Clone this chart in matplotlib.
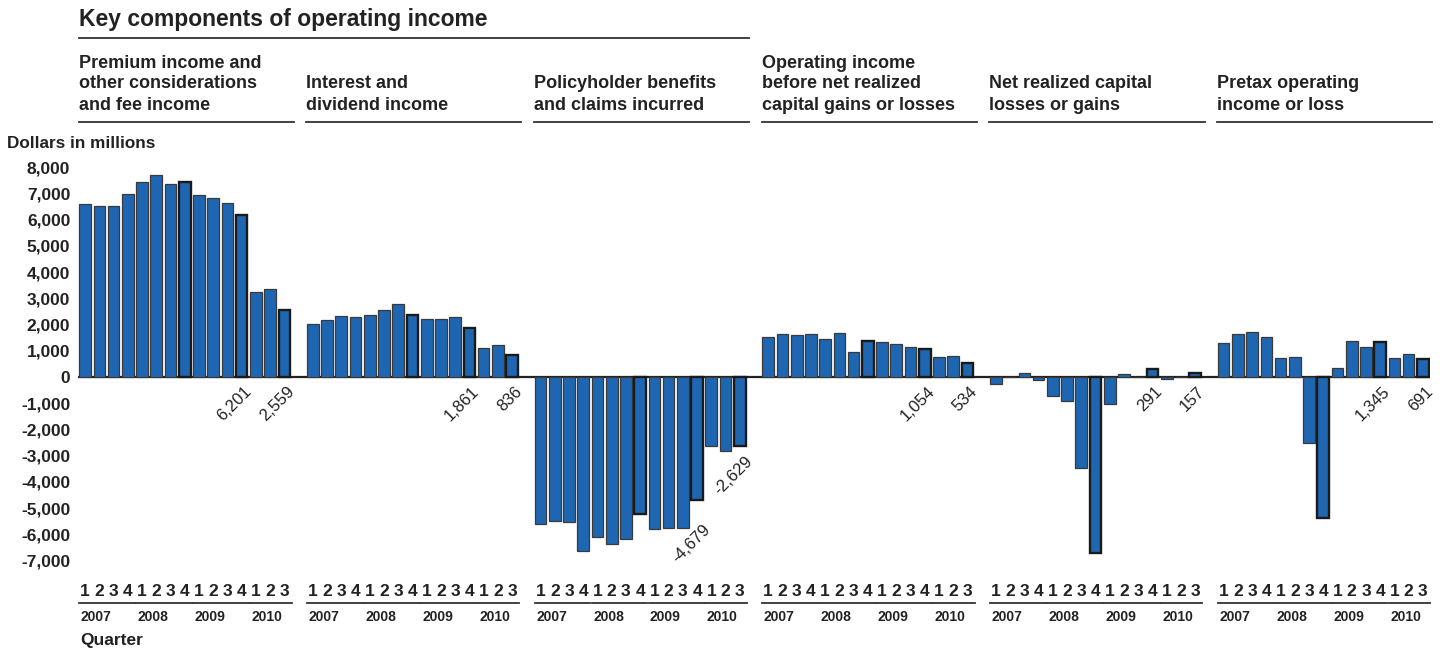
import numpy as np
import matplotlib.pyplot as plt
import matplotlib.transforms as mtransforms
from matplotlib.lines import Line2D

plt.rcParams['font.family'] = ['Liberation Sans', 'DejaVu Sans']

W, H = 1449, 652

# values in millions of dollars, 2007 Q1 .. 2010 Q3
premium = [6600, 6510, 6510, 6980, 7440, 7700, 7350, 7430, 6950, 6830, 6630, 6201, 3230, 3360, 2559]
interest = [2010, 2160, 2340, 2290, 2380, 2550, 2770, 2380, 2200, 2210, 2300, 1861, 1110, 1210, 836]
benefits = [-5600, -5510, -5520, -6650, -6120, -6360, -6180, -5240, -5790, -5760, -5750, -4679, -2620, -2810, -2629]
oper_before = [1520, 1640, 1600, 1640, 1460, 1680, 970, 1360, 1350, 1260, 1130, 1054, 780, 820, 534]
realized = [-250, -15, 140, -130, -740, -920, -3470, -6720, -1040, 110, 10, 291, -80, -10, 157]
pretax = [1290, 1660, 1730, 1520, 740, 780, -2500, -5380, 330, 1360, 1160, 1345, 710, 860, 691]

series = [premium, interest, benefits, oper_before, realized, pretax]
headers = [
    "Premium income and\nother considerations\nand fee income",
    "Interest and\ndividend income",
    "Policyholder benefits\nand claims incurred",
    "Operating income\nbefore net realized\ncapital gains or losses",
    "Net realized capital\nlosses or gains",
    "Pretax operating\nincome or loss",
]
quarters = ['1', '2', '3', '4'] * 3 + ['1', '2', '3']
years = ['2007', '2008', '2009', '2010']
year_len = [4, 4, 4, 3]
bold_bars = [7, 11, 14]
labeled = [11, 14]
yticks = list(range(-7000, 8001, 1000))

blue = '#1f66b2'


def fx(x):
    return x / W


def fy(y):
    return 1 - y / H


fig = plt.figure(figsize=(W / 100, H / 100), dpi=100)
ax = fig.add_axes([fx(78), fy(568.3), (1430 - 78) / W, (568.3 - 159.5) / H])
ax.set_xlim(-0.5, 94.5)
ax.set_ylim(-7300, 8300)

bw = 0.82
for i, vals in enumerate(series):
    x = np.arange(15) + 16 * i
    lws = [1.7 if j in bold_bars else 0.9 for j in range(15)]
    ecs = ['#1a1a1a' if j in bold_bars else '#3a3a3a' for j in range(15)]
    ax.bar(x, vals, width=bw, color=blue, edgecolor=ecs, linewidth=lws, zorder=2)
    for j in labeled:
        v = vals[j]
        if v >= 0:
            xy, off = (x[j], 0), (1.5, -5)
        elif j == 11:
            xy, off = (x[j], v), (4, -16)
        else:
            xy, off = (x[j], v), (4, -5.5)
        ax.annotate(f"{v:,}", xy=xy, xytext=off, textcoords='offset points',
                    rotation=45, rotation_mode='anchor', ha='right', va='top',
                    fontsize=12, color='#222222')

ax.axhline(0, color='#222222', lw=1.6, zorder=1)
ax.set_yticks(yticks)
ax.set_yticklabels([f"{v:,}" for v in yticks], fontsize=12.5, fontweight='bold', color='#222222')
ax.tick_params(axis='y', length=0, pad=5.5)
ax.set_xticks([])
for s in ax.spines.values():
    s.set_visible(False)

bt = mtransforms.blended_transform_factory(ax.transData, fig.transFigure)

# title and panel headers
fig.text(fx(79), fy(26), "Key components of operating income", fontsize=16.5,
         fontweight='bold', color='#222222', va='baseline')
x0 = -bw / 2 - 0.05
fig.add_artist(Line2D([x0, 46 + bw / 2 + 0.25], [fy(38.3)] * 2, transform=bt,
                      color='#333333', lw=1.3))
baselines = [110, 88.3, 67.7]
for i, head in enumerate(headers):
    left = 16 * i + x0
    lines = head.split('\n')[::-1]
    for k, line in enumerate(lines):
        fig.text(left, fy(baselines[k]), line, transform=bt, fontsize=13,
                 fontweight='bold', color='#222222', va='baseline')
    fig.add_artist(Line2D([left, 16 * i + 14 + bw / 2 + 0.25], [fy(121.7)] * 2,
                          transform=bt, color='#333333', lw=1.3))

fig.text(fx(7), fy(148), "Dollars in millions", fontsize=12.3, fontweight='bold',
         color='#222222', va='baseline')

# quarter / year axis labels
for i in range(6):
    for j, q in enumerate(quarters):
        fig.text(16 * i + j, fy(596), q, transform=bt, fontsize=12.5, fontweight='bold',
                 color='#222222', ha='center', va='baseline')
    start = 0
    for yr, n in zip(years, year_len):
        a = 16 * i + start - bw / 2
        b = 16 * i + start + n - 1 + bw / 2
        fig.add_artist(Line2D([a, b + 0.1], [fy(602.7)] * 2, transform=bt,
                              color='#333333', lw=1.3))
        fig.text(a + 0.1, fy(621), yr, transform=bt, fontsize=10, fontweight='bold',
                 color='#222222', va='baseline')
        start += n

fig.text(fx(80), fy(645), "Quarter", fontsize=12.5, fontweight='bold',
         color='#222222', va='baseline')

fig.savefig('out.png', dpi=100)
